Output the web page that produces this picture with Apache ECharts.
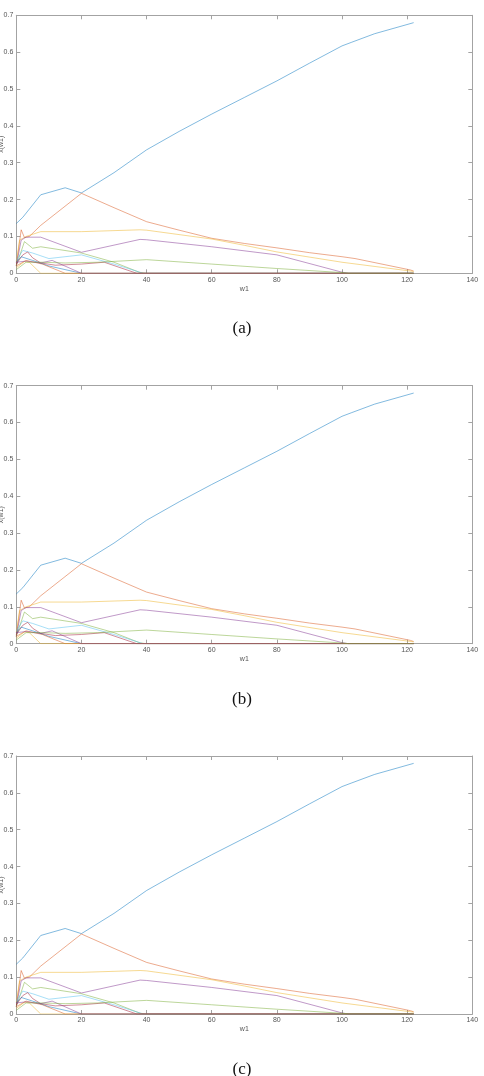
<!DOCTYPE html>
<html><head><meta charset="utf-8">
<script src="https://cdn.jsdelivr.net/npm/echarts@6/dist/echarts.min.js"></script>
<style>html,body{margin:0;padding:0;background:#fff}#c{width:484px;height:1076px}</style>
</head><body><div id="c"></div>
<script>
// ---- data ----
const panelLabels = ['(a)', '(b)', '(c)'];
const xName = 'w1';
const yName = 'x(w1)';

const s1_w = [0, 2, 7.5, 15, 20, 30, 40, 50, 60, 70, 80, 90, 100, 103, 110, 122];
const s1_x = [0.135, 0.152, 0.213, 0.232, 0.218, 0.273, 0.335, 0.385, 0.432, 0.477, 0.522, 0.57, 0.617, 0.627, 0.65, 0.68];

const s2_w = [0, 1.5, 2.5, 4, 7.5, 20, 30, 40, 50, 60, 70, 80, 90, 100, 104, 121, 122];
const s2_x = [0.02, 0.118, 0.097, 0.1, 0.13, 0.217, 0.178, 0.14, 0.117, 0.095, 0.081, 0.069, 0.056, 0.045, 0.04, 0.009, 0.006];

const s3_w = [0, 1, 3, 7.5, 20, 38, 40, 60, 70, 80, 100, 122];
const s3_x = [0.03, 0.09, 0.1, 0.113, 0.113, 0.118, 0.117, 0.093, 0.076, 0.058, 0.03, 0.005];

const s4_w = [0, 1.5, 3, 7.5, 20, 38, 40, 60, 80, 100, 102, 122];
const s4_x = [0.02, 0.09, 0.098, 0.098, 0.057, 0.092, 0.091, 0.072, 0.05, 0.003, 0, 0];

const s5_w = [0, 2.5, 5, 7.5, 20, 30, 38, 40, 122];
const s5_x = [0.02, 0.086, 0.068, 0.072, 0.055, 0.03, 0.002, 0, 0];

const s6_w = [0, 2, 5, 10, 20, 30, 39, 122];
const s6_x = [0.035, 0.062, 0.055, 0.04, 0.05, 0.025, 0, 0];

const s7_w = [0, 2, 3.5, 5, 7.5, 12, 20, 27, 37, 122];
const s7_x = [0.025, 0.05, 0.058, 0.042, 0.028, 0.022, 0.025, 0.03, 0, 0];

const s8_w = [0, 1.5, 5, 10, 20, 122];
const s8_x = [0.03, 0.045, 0.035, 0.02, 0, 0];

const s9_w = [0, 3, 8, 15, 122];
const s9_x = [0.02, 0.035, 0.025, 0, 0];

const s10_w = [0, 2.5, 4, 7.5, 122];
const s10_x = [0.015, 0.032, 0.03, 0, 0];

const s11_w = [0, 3, 7.5, 11, 20, 122];
const s11_x = [0.03, 0.033, 0.028, 0.035, 0, 0];

const s12_w = [0, 3, 8, 15, 25, 40, 60, 80, 100, 102, 122];
const s12_x = [0.01, 0.03, 0.03, 0.028, 0.03, 0.037, 0.025, 0.013, 0.002, 0, 0];

// ---- build chart ----
const seriesDefs = [
  [s1_w, s1_x, '#0072BD'], [s2_w, s2_x, '#D95319'], [s3_w, s3_x, '#EDB120'],
  [s4_w, s4_x, '#7E2F8E'], [s5_w, s5_x, '#77AC30'], [s6_w, s6_x, '#4DBEEE'],
  [s7_w, s7_x, '#A2142F'], [s8_w, s8_x, '#0072BD'], [s9_w, s9_x, '#D95319'],
  [s10_w, s10_x, '#EDB120'], [s11_w, s11_x, '#7E2F8E'], [s12_w, s12_x, '#77AC30']
];

const gridTops = [15.3, 385.7, 756];
const gridH = 258, gridL = 16.3, gridW = 456;
const axCol = '#a3a3a3';
const lblStyle = {fontSize: 7, color: '#555', fontFamily: 'Liberation Sans'};

const grid = [], xAxis = [], yAxis = [], series = [], title = [];
gridTops.forEach((t, g) => {
  grid.push({left: gridL, top: t, width: gridW, height: gridH, containLabel: false, outerBoundsMode: 'none'});
  const common = {type: 'value', gridIndex: g, splitLine: {show: false},
    axisLine: {show: true, onZero: false, lineStyle: {color: axCol, width: 1}},
    axisTick: {show: true, inside: true, length: 4, lineStyle: {color: axCol}}};
  xAxis.push(Object.assign({}, common, {position: 'bottom', min: 0, max: 140, interval: 20,
    axisLabel: Object.assign({margin: 3}, lblStyle),
    name: xName, nameLocation: 'middle', nameGap: 12, nameMoveOverlap: false,
    nameTextStyle: Object.assign({}, lblStyle)}));
  xAxis.push(Object.assign({}, common, {position: 'top', min: 0, max: 140, interval: 20,
    axisLabel: {show: false}}));
  yAxis.push(Object.assign({}, common, {position: 'left', min: 0, max: 0.7, interval: 0.1,
    axisLabel: Object.assign({margin: 3, formatter: v => v === 0 ? '0' : v.toFixed(1)}, lblStyle),
    name: yName, nameLocation: 'middle', nameGap: 12, nameRotate: 90, nameMoveOverlap: false,
    nameTextStyle: Object.assign({}, lblStyle)}));
  yAxis.push(Object.assign({}, common, {position: 'right', min: 0, max: 0.7, interval: 0.1,
    axisLabel: {show: false}}));
  seriesDefs.forEach(([ws, xs, col]) => {
    series.push({type: 'line', xAxisIndex: 2 * g, yAxisIndex: 2 * g,
      data: ws.map((w, i) => [w, xs[i]]), showSymbol: false, symbol: 'none',
      lineStyle: {color: col, width: 0.9, opacity: 0.55}, silent: true, z: 2});
  });
  title.push({text: panelLabels[g], left: 'center', top: t + gridH + 42,
    textStyle: {fontFamily: 'Liberation Serif', fontSize: 17, fontWeight: 'normal', color: '#111'}});
});

const chart = echarts.init(document.getElementById('c'), null, {renderer: 'canvas'});
chart.setOption({animation: false, backgroundColor: '#fff', grid, xAxis, yAxis, series, title});
</script></body></html>
